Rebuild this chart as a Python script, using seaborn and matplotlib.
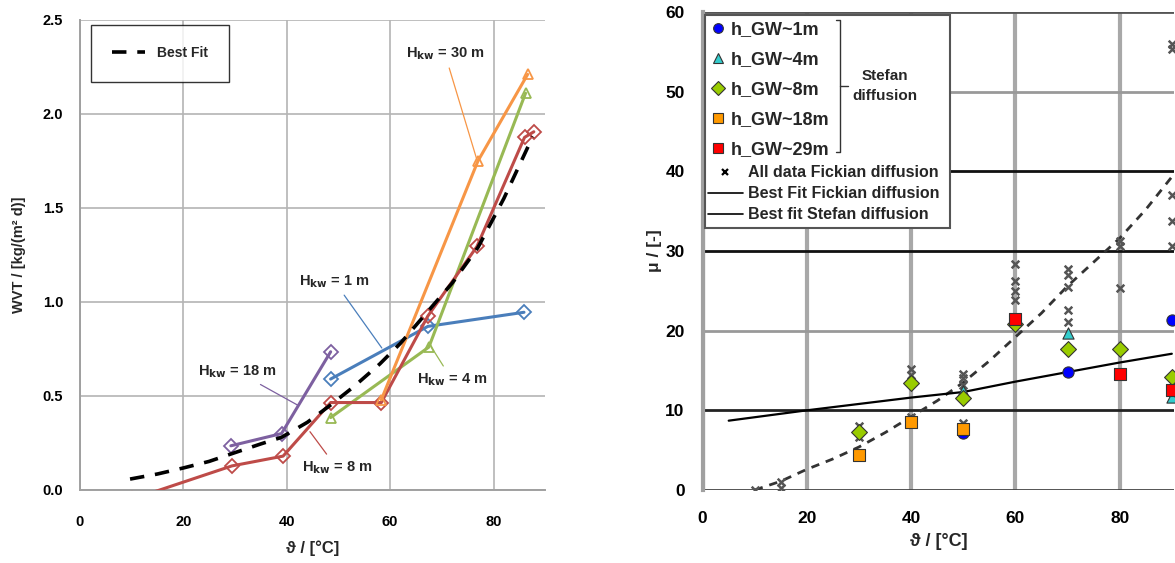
import matplotlib
matplotlib.use("Agg")
import matplotlib.pyplot as plt
import seaborn as sns
from matplotlib.lines import Line2D
from matplotlib.patches import Rectangle

# ---- left panel: WVT vs temperature, one series per groundwater level ----
h1_x = [48.5, 67.3, 85.9]
h1_y = [0.59, 0.87, 0.945]
h4_x = [48.5, 67.5, 86.2]
h4_y = [0.385, 0.76, 2.11]
h8_x = [10.0, 29.4, 39.3, 48.5, 58.3, 67.3, 76.8, 86.0, 87.8]
h8_y = [-0.05, 0.128, 0.18, 0.465, 0.465, 0.925, 1.295, 1.875, 1.905]
h18_x = [29.2, 39.0, 48.5]
h18_y = [0.235, 0.30, 0.735]
h30_x = [58.3, 77.0, 86.6]
h30_y = [0.48, 1.75, 2.21]
fit_x = [9.7, 15, 20, 25, 29.6, 35, 39, 44, 48.4, 53, 58, 62, 67, 72, 77, 82, 87.6]
fit_y = [0.058, 0.085, 0.117, 0.152, 0.195, 0.245, 0.28, 0.36, 0.45, 0.55, 0.67, 0.78, 0.94, 1.10, 1.29, 1.55, 1.88]

# ---- right panel: mu vs temperature ----
gw1_x = [50, 70, 90]
gw1_y = [7.2, 14.8, 21.3]
gw4_x = [50, 70, 90]
gw4_y = [12.4, 19.7, 11.7]
gw8_x = [30, 40, 50, 60, 70, 80, 90]
gw8_y = [7.3, 13.4, 11.6, 20.8, 17.7, 17.7, 14.2]
gw18_x = [30, 40, 50]
gw18_y = [4.4, 8.5, 7.6]
gw29_x = [60, 80, 90]
gw29_y = [21.4, 14.6, 12.6]
fick_x = [10, 15, 15, 30, 30, 40, 40, 40, 50, 50, 50, 50, 60, 60, 60, 60,
          70, 70, 70, 70, 70, 80, 80, 80, 90, 90, 90, 90, 90]
fick_y = [0.0, 1.0, 0.3, 8.0, 6.6, 15.2, 14.4, 9.2, 14.6, 14.0, 13.2, 8.4,
          28.4, 26.2, 25.0, 23.8, 27.8, 27.0, 25.5, 22.6, 21.1, 31.2, 30.6, 25.3,
          56.0, 55.4, 37.0, 33.8, 30.6]
fickfit_x = [10, 15, 20, 25, 30, 35, 40, 45, 50, 55, 60, 65, 70, 75, 80, 85, 90]
fickfit_y = [0.0, 1.1, 2.6, 3.9, 5.4, 7.2, 9.2, 11.2, 13.5, 16.2, 19.2, 22.2, 25.6, 28.6, 31.6, 35.2, 39.3]
stefit_x = [5, 20, 40, 50, 60, 70, 80, 90]
stefit_y = [8.7, 10.0, 11.6, 12.3, 13.6, 14.8, 16.0, 17.1]

sns.set_theme(style="white")
plt.rcParams['font.family'] = ['Liberation Sans', 'DejaVu Sans']
plt.rcParams['font.weight'] = 'bold'
plt.rcParams['mathtext.default'] = 'bf'

fig = plt.figure(figsize=(11.75, 5.63), dpi=100)
ax1 = fig.add_axes([0.068, 0.1297, 0.396, 0.835])
ax2 = fig.add_axes([0.598, 0.1297, 0.4015, 0.849])

# ---------------- left chart ----------------
BLUE, GREEN, RED, PURPLE, ORANGE = '#4a7ebb', '#98b954', '#be4b48', '#7d60a0', '#f79646'
series = [
    (h1_x, h1_y, BLUE, 'D'),
    (h4_x, h4_y, GREEN, '^'),
    (h8_x, h8_y, RED, 'D'),
    (h18_x, h18_y, PURPLE, 'D'),
    (h30_x, h30_y, ORANGE, '^'),
]
for xs, ys, col, mk in series:
    sns.lineplot(x=xs, y=ys, ax=ax1, color=col, lw=2.2, marker=mk, ms=7,
                 markerfacecolor='none', markeredgecolor=col, mew=1.3,
                 estimator=None, sort=False, zorder=3)
sns.lineplot(x=fit_x, y=fit_y, ax=ax1, color='black', lw=2.6, ls=(0, (4, 3)),
             estimator=None, zorder=4)

ax1.set_xlim(0, 90)
ax1.set_ylim(0, 2.5)
ax1.set_xticks([0, 20, 40, 60, 80])
ax1.set_yticks([0, 0.5, 1.0, 1.5, 2.0, 2.5])
ax1.set_yticklabels([f"{v:.1f}" for v in [0, 0.5, 1.0, 1.5, 2.0, 2.5]])
ax1.grid(True, color='#b4b4b4', lw=1.2)
ax1.set_axisbelow(True)
for s in ['top', 'right']:
    ax1.spines[s].set_visible(False)
for s in ['left', 'bottom']:
    ax1.spines[s].set_color('#a0a0a0')
    ax1.spines[s].set_linewidth(1.4)
ax1.tick_params(axis='both', labelsize=10.5, colors='black', length=4, color='#a0a0a0')
ax1.tick_params(axis='x', pad=14)
ax1.tick_params(axis='y', pad=8)
ax1.set_xlabel("ϑ / [°C]", fontsize=12, fontweight='bold', labelpad=8)
ax1.set_ylabel("WVT / [kg/(m² d)]", fontsize=10.5, fontweight='bold', labelpad=12)

leg1 = ax1.legend([Line2D([], [], color='black', lw=2.6, ls=(0, (4, 3)))], ['Best Fit'],
                  loc='upper left', bbox_to_anchor=(0.023, 0.99), fontsize=10,
                  frameon=True, fancybox=False, edgecolor='black', borderpad=1.55,
                  handlelength=2.4, borderaxespad=0)
leg1.get_frame().set_linewidth(1.0)

notes = [
    ("30", (70.6, 2.32), (76.8, 1.755), ORANGE),
    ("1", (49.2, 1.11), (58.4, 0.755), BLUE),
    ("18", (30.4, 0.63), (42.2, 0.45), PURPLE),
    ("4", (72.0, 0.585), (68.1, 0.755), GREEN),
    ("8", (49.7, 0.117), (44.5, 0.31), RED),
]
for val, txt_pos, pt, col in notes:
    ax1.annotate(r"H$_{\mathbf{kw}}$ = " + val + " m", xy=pt, xytext=txt_pos,
                 ha='center', va='center', fontsize=10.5, fontweight='bold',
                 arrowprops=dict(arrowstyle='-', color=col, lw=0.9, shrinkA=2, shrinkB=0),
                 zorder=5)

# ---------------- right chart ----------------
sns.lineplot(x=fickfit_x, y=fickfit_y, ax=ax2, color='#333333', lw=2.0, ls=(0, (3, 2.5)),
             estimator=None, zorder=3)
sns.lineplot(x=stefit_x, y=stefit_y, ax=ax2, color='black', lw=1.6,
             estimator=None, zorder=3)
sns.scatterplot(x=fick_x, y=fick_y, ax=ax2, marker='x', color='#555555', s=30,
                linewidth=1.8, zorder=4)
groups = [
    (gw1_x, gw1_y, '#0000ff', 'o', 'h_GW~1m'),
    (gw4_x, gw4_y, '#33cccc', '^', 'h_GW~4m'),
    (gw8_x, gw8_y, '#99cc00', 'D', 'h_GW~8m'),
    (gw18_x, gw18_y, '#ff9900', 's', 'h_GW~18m'),
    (gw29_x, gw29_y, '#ff0000', 's', 'h_GW~29m'),
]
for xs, ys, col, mk, lab in groups:
    sns.scatterplot(x=xs, y=ys, ax=ax2, marker=mk, color=col, s=65,
                    edgecolor='#333333', linewidth=0.8, zorder=5)

ax2.set_xlim(0, 90.5)
ax2.set_ylim(0, 60)
ax2.set_xticks([0, 20, 40, 60, 80])
ax2.set_yticks([0, 10, 20, 30, 40, 50, 60])
ax2.grid(True, axis='x', color='#a8a8a8', lw=3)
ax2.grid(True, axis='y', lw=2)
hcolors = ['#444444', '#222222', '#999999', '#111111', '#111111', '#999999', '#555555']
for gl, c in zip(ax2.yaxis.get_gridlines(), hcolors):
    gl.set_color(c)
ax2.set_axisbelow(True)
for s in ['top', 'right', 'bottom']:
    ax2.spines[s].set_visible(False)
ax2.spines['left'].set_color('#a0a0a0')
ax2.spines['left'].set_linewidth(3)
ax2.tick_params(axis='both', labelsize=12.5, colors='black', length=4, color='#444444')
ax2.tick_params(axis='x', pad=11)
ax2.tick_params(axis='y', pad=9)
ax2.set_xlabel("ϑ / [°C]", fontsize=13, fontweight='bold', labelpad=5)
ax2.set_ylabel("μ / [-]", fontsize=12.5, fontweight='bold', labelpad=2)

# legend: white box holding two stacked legends (Stefan group + Fickian entries)
ax2.add_patch(Rectangle((0.004, 0.548), 0.521, 0.446, transform=ax2.transAxes,
                        facecolor='white', edgecolor='#555555', lw=1.5, zorder=6))
hA = [Line2D([], [], ls='none', marker=mk, color=col, markeredgecolor='#333333',
             markeredgewidth=0.8, ms=7) for _, _, col, mk, _ in groups]
legA = ax2.legend(hA, [g[4] for g in groups], loc='upper left',
                  bbox_to_anchor=(0.004, 0.994), fontsize=13, frameon=False,
                  borderpad=0.35, handlelength=0.8, handletextpad=0.3,
                  labelspacing=0.72, borderaxespad=0)
legA.set_zorder(7)
ax2.add_artist(legA)
hB = [Line2D([], [], ls='none', marker='x', color='black', ms=5, mew=1.6),
      Line2D([], [], color='black', lw=1.2),
      Line2D([], [], color='black', lw=1.2)]
legB = ax2.legend(hB, ['All data Fickian diffusion', 'Best Fit Fickian diffusion',
                       'Best fit Stefan diffusion'],
                  loc='upper left', bbox_to_anchor=(0.004, 0.686), fontsize=11.5,
                  frameon=False, borderpad=0.2, handlelength=2.2, handletextpad=0.3,
                  labelspacing=0.38, borderaxespad=0)
legB.set_zorder(7)

# bracket grouping the Stefan diffusion entries
bx = 26.3
ax2.plot([bx - 0.8, bx, bx, bx - 0.8], [59.0, 59.0, 42.4, 42.4], color='#333333', lw=1,
         zorder=8)
ax2.plot([bx, bx + 1.6], [50.7, 50.7], color='#333333', lw=1, zorder=8)
ax2.text(35.0, 50.7, "Stefan\ndiffusion", ha='center', va='center', fontsize=11,
         fontweight='bold', zorder=8, linespacing=1.6)

fig.savefig("out.png", dpi=100)
